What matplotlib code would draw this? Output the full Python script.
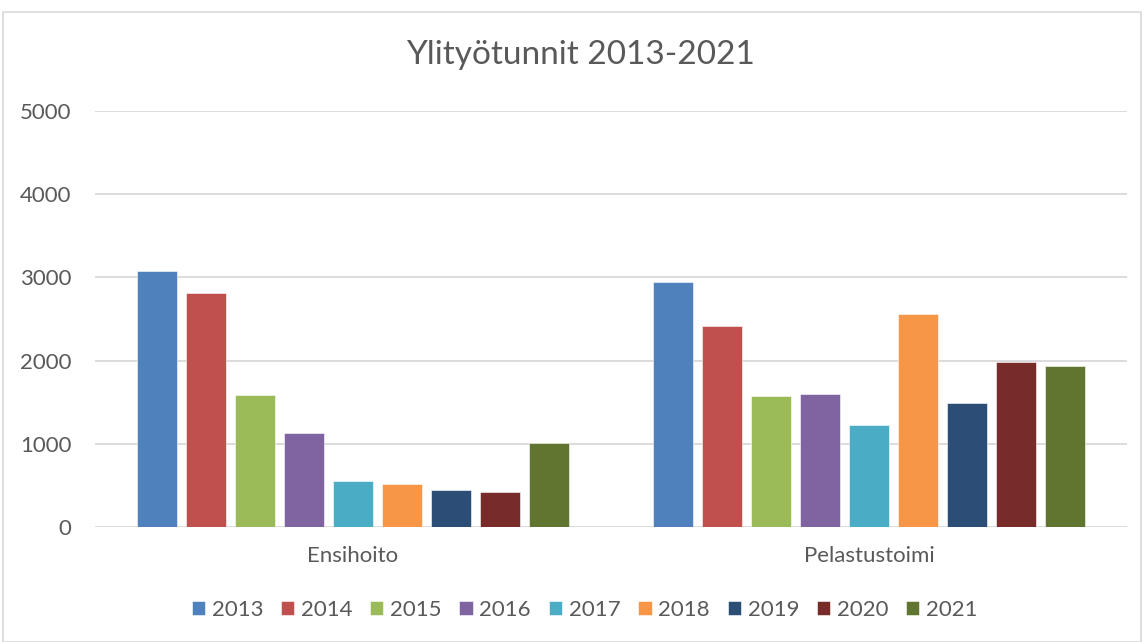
import matplotlib.pyplot as plt
import numpy as np
from matplotlib.patches import Rectangle

# data
categories = ['Ensihoito', 'Pelastustoimi']
years = ['2013', '2014', '2015', '2016', '2017', '2018', '2019', '2020', '2021']
ensihoito = [3080, 2815, 1590, 1125, 557, 518, 450, 422, 1010]
pelastustoimi = [2948, 2418, 1580, 1596, 1220, 2566, 1492, 1981, 1941]
colors = ['#4F81BD', '#C0504D', '#9BBB59', '#8064A2', '#4BACC6',
          '#F79646', '#2C4D75', '#772C2A', '#5F7530']

plt.rcParams['font.family'] = ['Lato', 'DejaVu Sans']
text_col = '#595959'

fig = plt.figure(figsize=(11.44, 6.42), dpi=100)
ax = fig.add_axes([95 / 1144, 1 - 527 / 642, 1032 / 1144, 416 / 642])

# outer chart border
fig.patches.append(Rectangle((3 / 1144, 0.5 / 642), 1138 / 1144, 630 / 642,
                             transform=fig.transFigure, fill=False,
                             edgecolor='#D9D9D9', lw=1.2))

x = np.arange(len(categories))
step = 0.095
width = 0.076
for i, yr in enumerate(years):
    vals = [ensihoito[i], pelastustoimi[i]]
    ax.bar(x + (i - 4) * step, vals, width, color=colors[i], label=yr,
           edgecolor='white', linewidth=0.4, zorder=3)

ax.set_xlim(-0.5, 1.5)
ax.set_ylim(0, 5000)
ax.set_yticks(range(0, 5001, 1000))
ax.set_xticks(x)
ax.set_xticklabels(categories)
ax.grid(axis='y', color='#D9D9D9', lw=1.3, zorder=0)
for s in ax.spines.values():
    s.set_visible(False)
ax.tick_params(length=0, colors=text_col, labelsize=16)
ax.tick_params(axis='y', pad=17)
ax.tick_params(axis='x', pad=14)

fig.text(0.507, 1 - 55 / 642, 'Ylityötunnit 2013-2021', ha='center', va='center',
         fontsize=24, color=text_col)

leg = fig.legend(loc='center', bbox_to_anchor=(0.511, 1 - 610 / 642), ncol=9,
                 frameon=False, fontsize=16, handlelength=0.6, handleheight=0.6,
                 handletextpad=0.3, columnspacing=0.8)
for t in leg.get_texts():
    t.set_color(text_col)

fig.savefig('out.png', dpi=100)
